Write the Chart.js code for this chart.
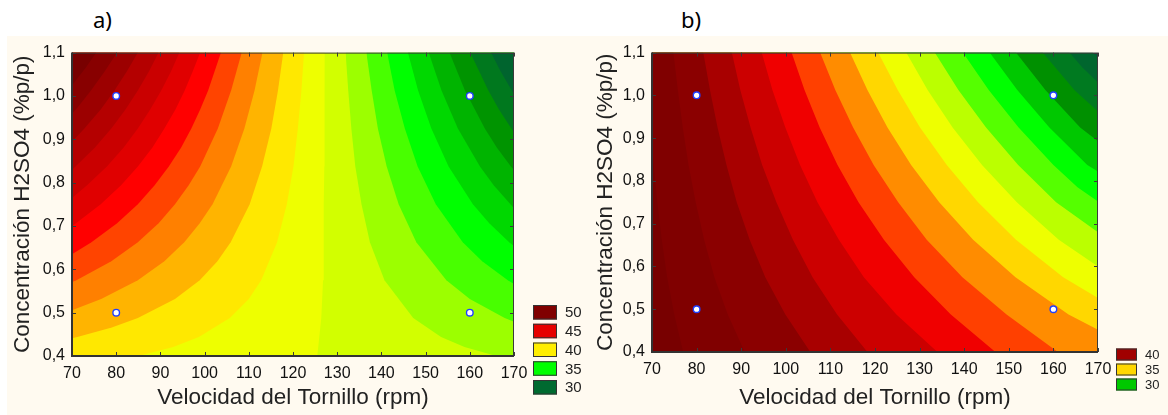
<!DOCTYPE html>
<html lang="es">
<head>
<meta charset="UTF-8">
<title>Superficies de respuesta</title>
<script src="https://cdn.jsdelivr.net/npm/chart.js"></script>
<style>
    html, body { margin: 0; padding: 0; background: #ffffff; }
    body { width: 1168px; height: 415px; position: relative; overflow: hidden; }
    canvas { position: absolute; top: 36px; background: #fffaf0; }
    #chartA { left: 7px; }
    #chartB { left: 590px; }
    .tag { position: absolute; top: 6px; font-family: "Noto Sans", "Open Sans", sans-serif; font-size: 22px; line-height: 26px; color: #000; }
</style>
</head>
<body>
<div class="tag" style="left:93px">a)</div>
<div class="tag" style="left:681px">b)</div>
<canvas id="chartA" width="583" height="379"></canvas>
<canvas id="chartB" width="578" height="379"></canvas>
<script>
// ejes
const xTicks = [70, 80, 90, 100, 110, 120, 130, 140, 150, 160, 170];
const yTicks = [0.4, 0.5, 0.6, 0.7, 0.8, 0.9, 1.0, 1.1];
const xTitle = 'Velocidad del Tornillo (rpm)';
const yTitle = 'Concentración H2SO4 (%p/p)';

// puntos experimentales
const expX = [80, 80, 160, 160];
const expY = [0.5, 1.0, 0.5, 1.0];

// ---- a) colores de banda (50 ... 30)
const bandsA = [50, 49, 48, 47, 46, 45, 44, 43, 42, 41, 40, 39, 38, 37, 36, 35, 34, 33, 32, 31, 30];
const colorsA = ['#780000', '#880000', '#9c0000', '#b40000', '#ca0000', '#e00000', '#ff0000',
    '#ff4400', '#ff8000', '#ffb400', '#ffe800', '#eeff00', '#d2ff00', '#9cff00', '#48ff00',
    '#00ff00', '#00d800', '#00b400', '#009400', '#00781e', '#00642e'];
const legendA = [50, 45, 40, 35, 30];
const legendColorsA = ['#800000', '#e60000', '#ffee00', '#00ff00', '#006a30'];

// a) lineas de contorno (x, y)
const a49 = [[70, 1.024], [71.5, 1.044], [73.1, 1.065], [75.5, 1.1]];
const a48 = [[70, 0.959], [71.3, 0.974], [74.3, 1.0125], [77.5, 1.058], [80.2, 1.1]];
const a47 = [[70, 0.8945], [72.8, 0.925], [76.5, 0.96875], [79.6, 1.0125], [82.4, 1.05625], [84.9, 1.1]];
const a46 = [[70, 0.8298], [70.8, 0.8375], [75.2, 0.88125], [78.9, 0.925], [82.1, 0.96875], [84.9, 1.0125], [87.4, 1.05625], [89.6, 1.1]];
const a45 = [[70, 0.7648], [73.4, 0.79375], [77.9, 0.8375], [81.7, 0.88125], [84.9, 0.925], [87.7, 0.96875], [90.2, 1.0125], [92.4, 1.05625], [94.3, 1.1]];
const a44 = [[70, 0.700], [70.9, 0.70625], [76.5, 0.75], [81.1, 0.79375], [84.9, 0.8375], [88.2, 0.88125], [90.9, 0.925], [93.4, 0.96875], [95.5, 1.0125], [97.3, 1.05625], [99.0, 1.1]];
const a43 = [[70, 0.635], [74.4, 0.6625], [80.2, 0.70625], [84.9, 0.75], [88.7, 0.79375], [91.9, 0.8375], [94.7, 0.88125], [97.0, 0.925], [99.0, 0.96875], [100.8, 1.0125], [103.7, 1.1]];
const a42 = [[70, 0.5705], [71.0, 0.575], [78.9, 0.61875], [84.9, 0.6625], [89.6, 0.70625], [93.3, 0.75], [96.4, 0.79375], [99.0, 0.8375], [103.0, 0.925], [106.0, 1.0125], [108.4, 1.1]];
const a41 = [[70, 0.5056], [76.6, 0.53125], [84.9, 0.575], [90.9, 0.61875], [95.4, 0.6625], [98.9, 0.70625], [101.8, 0.75], [106.0, 0.8375], [109.0, 0.925], [111.3, 1.0125], [113.1, 1.1]];
const a40 = [[70, 0.4408], [71.2, 0.44375], [79.0, 0.465625], [84.9, 0.4875], [93.3, 0.53125], [98.9, 0.575], [102.9, 0.61875], [105.9, 0.6625], [110.2, 0.75], [113.0, 0.8375], [115.1, 0.925], [116.6, 1.0125], [117.8, 1.1]];
const a39 = [[70, 0.4], [85.0, 0.4], [92.9, 0.421], [98.7, 0.44375], [105.7, 0.4875], [110.0, 0.53125], [112.8, 0.575], [116.4, 0.6625], [118.6, 0.75], [120.1, 0.8375], [121.1, 0.925], [121.9, 1.0125], [122.5, 1.1]];
const a38 = [[70, 0.4], [125.5, 0.4], [126.4, 0.4875], [126.8, 0.575], [126.9, 0.6625], [127.0, 0.75], [127.1, 0.8375], [127.15, 0.925], [127.2, 1.0125], [127.2, 1.1]];
const a37 = [[131.9, 1.1], [132.5, 1.0125], [133.2, 0.925], [134.1, 0.8375], [135.5, 0.75], [137.4, 0.6625], [140.7, 0.575], [147.2, 0.4875], [153.5, 0.44375], [158.8, 0.421], [166.0, 0.4], [170, 0.4]];
const a36 = [[136.6, 1.1], [137.8, 1.0125], [139.2, 0.925], [141.2, 0.8375], [143.9, 0.75], [147.9, 0.6625], [154.7, 0.575], [160.0, 0.53125], [167.9, 0.4875], [170, 0.4788]];
const a35 = [[141.3, 1.1], [143.0, 1.0125], [145.3, 0.925], [148.2, 0.8375], [152.3, 0.75], [158.4, 0.6625], [162.8, 0.61875], [168.6, 0.575], [170, 0.566]];
const a34 = [[146.0, 1.1], [148.3, 1.0125], [151.3, 0.925], [155.2, 0.8375], [160.7, 0.75], [164.4, 0.70625], [168.9, 0.6625], [170, 0.654]];
const a33 = [[150.7, 1.1], [153.6, 1.0125], [157.3, 0.925], [162.3, 0.8375], [165.4, 0.79375], [169.2, 0.75], [170, 0.741]];
const a32 = [[155.4, 1.1], [158.9, 1.0125], [163.4, 0.925], [166.1, 0.88125], [169.3, 0.8375], [170, 0.829]];
const a31 = [[160.1, 1.1], [164.2, 1.0125], [166.6, 0.96875], [169.4, 0.925], [170, 0.916]];
const a30 = [[164.8, 1.1], [166.9, 1.058], [169.5, 1.0125], [170, 1.004]];

// ---- b) colores de banda (43 ... 26)
const bandsB = [43, 42, 41, 40, 39, 38, 37, 36, 35, 34, 33, 32, 31, 30, 29, 28, 27, 26];
const colorsB = ['#780000', '#800000', '#8b0000', '#a80000', '#cc0000', '#f00000', '#ff4000',
    '#ff8c00', '#ffd700', '#eeff00', '#bbff00', '#55ff00', '#00ff00', '#00c800', '#009000',
    '#007a20', '#00662e', '#005a3a'];
const legendB = [40, 35, 30];
const legendColorsB = ['#a00000', '#ffd700', '#00c800'];

// b) lineas de contorno
const b42 = [[70, 0.881], [70.4, 0.8375], [71.2, 0.75], [72.2, 0.6625], [73.4, 0.575], [75.0, 0.4875], [77.0, 0.4]];
const b41 = [[70, 1.1], [74.8, 1.1], [75.8, 1.0125], [76.9, 0.925], [78.2, 0.8375], [79.8, 0.75], [81.7, 0.6625], [84.0, 0.575], [87.0, 0.4875], [90.8, 0.4]];
const b40 = [[70, 1.1], [81.5, 1.1], [83.0, 1.0125], [84.7, 0.925], [86.7, 0.8375], [89.0, 0.75], [91.9, 0.6625], [95.4, 0.575], [99.9, 0.4875], [105.5, 0.4]];
const b39 = [[70, 1.1], [87.9, 1.1], [89.8, 1.0125], [92.1, 0.925], [94.7, 0.8375], [97.9, 0.75], [101.6, 0.6625], [106.0, 0.575], [111.5, 0.4875], [118.3, 0.4]];
const b38 = [[70, 1.1], [94.6, 1.1], [97.0, 1.0125], [99.9, 0.925], [103.2, 0.8375], [107.1, 0.75], [111.9, 0.6625], [117.5, 0.575], [124.8, 0.4875], [134.0, 0.4]];
const b37 = [[70, 1.1], [101.3, 1.1], [104.2, 1.0125], [107.6, 0.925], [111.6, 0.8375], [116.3, 0.75], [122.0, 0.6625], [128.8, 0.575], [137.0, 0.4875], [147.0, 0.4]];
const b36 = [[70, 1.1], [107.7, 1.1], [111.1, 1.0125], [115.1, 0.925], [119.7, 0.8375], [125.2, 0.75], [131.6, 0.6625], [139.6, 0.575], [149.5, 0.4875], [161.0, 0.4]];
const b35 = [[70, 1.1], [114.4, 1.1], [118.3, 1.0125], [122.8, 0.925], [128.1, 0.8375], [134.4, 0.75], [142.0, 0.6625], [151.5, 0.575], [163.4, 0.4875], [170, 0.452]];
const b34 = [[70, 1.1], [120.7, 1.1], [125.1, 1.0125], [130.1, 0.925], [136.1, 0.8375], [143.1, 0.75], [151.6, 0.6625], [162.2, 0.575], [170, 0.526]];
const b33 = [[70, 1.1], [127.0, 1.1], [131.8, 1.0125], [137.4, 0.925], [144.0, 0.8375], [151.8, 0.75], [161.2, 0.6625], [170, 0.600]];
const b32 = [[70, 1.1], [133.4, 1.1], [138.7, 1.0125], [144.9, 0.925], [152.1, 0.8375], [160.6, 0.75], [170, 0.680]];
const b31 = [[70, 1.1], [139.7, 1.1], [145.5, 1.0125], [152.2, 0.925], [160.0, 0.8375], [165.4, 0.785], [170, 0.752]];
const b30 = [[70, 1.1], [145.7, 1.1], [151.9, 1.0125], [159.1, 0.925], [167.6, 0.8375], [170, 0.822]];
const b29 = [[70, 1.1], [151.6, 1.1], [158.2, 1.0125], [166.0, 0.925], [170, 0.893]];
const b28 = [[70, 1.1], [157.6, 1.1], [164.7, 1.0125], [170, 0.962]];
const b27 = [[70, 1.1], [163.6, 1.1], [166.5, 1.065], [170, 1.03]];
const b26 = [[70, 1.1], [168.8, 1.1], [170, 1.088]];

const fullArea = [[70, 1.1], [170, 1.1]];

function comma(v) {
    return v.toFixed(1).replace('.', ',');
}

// dibuja el marco y las marcas hacia adentro
const framePlugin = {
    id: 'frame',
    afterDatasetsDraw(chart) {
        const { ctx, chartArea: a, scales: { x, y } } = chart;
        ctx.save();
        ctx.strokeStyle = '#3a3a3a';
        ctx.lineWidth = 1;
        xTicks.forEach(v => {
            const px = Math.round(x.getPixelForValue(v)) + 0.5;
            ctx.beginPath();
            ctx.moveTo(px, a.bottom); ctx.lineTo(px, a.bottom - 4);
            ctx.moveTo(px, a.top); ctx.lineTo(px, a.top + 4);
            ctx.stroke();
        });
        yTicks.forEach(v => {
            const py = Math.round(y.getPixelForValue(v)) + 0.5;
            ctx.beginPath();
            ctx.moveTo(a.left, py); ctx.lineTo(a.left + 4, py);
            ctx.moveTo(a.right, py); ctx.lineTo(a.right - 4, py);
            ctx.stroke();
        });
        ctx.strokeRect(a.left + 0.5, a.top + 0.5, a.right - a.left - 1, a.bottom - a.top - 1);
        ctx.lineWidth = 2;
        ctx.strokeStyle = '#333';
        ctx.beginPath();
        ctx.moveTo(a.left, a.top); ctx.lineTo(a.left, a.bottom); ctx.lineTo(a.right, a.bottom);
        ctx.stroke();
        ctx.restore();
    }
};

// leyenda de niveles
const keyPlugin = {
    id: 'levelKey',
    afterDraw(chart, args, o) {
        const { ctx, chartArea: a } = chart;
        ctx.save();
        ctx.font = o.size + 'px "Liberation Sans", Arial, sans-serif';
        ctx.textBaseline = 'middle';
        o.labels.forEach((lab, i) => {
            const bx = a.right + o.dx;
            const by = a.bottom + o.dy + i * o.step;
            ctx.fillStyle = o.colors[i];
            ctx.fillRect(bx, by, o.w, o.h);
            ctx.strokeStyle = '#333';
            ctx.lineWidth = 1;
            ctx.strokeRect(bx + 0.5, by + 0.5, o.w - 1, o.h - 1);
            ctx.fillStyle = '#222';
            ctx.fillText(String(lab), bx + o.w + 8, by + o.h / 2 + 1);
        });
        ctx.restore();
    }
};

function region(pts, color, fill) {
    return {
        data: pts.map(p => ({ x: p[0], y: p[1] })),
        backgroundColor: color,
        borderColor: 'rgba(0,0,0,0)',
        borderWidth: 0,
        pointRadius: 0,
        tension: 0,
        fill: fill
    };
}

function makeChart(id, layers, key, box) {
    // Chart.js pinta el dataset 0 al final: se invierte el orden de capas
    const datasets = [{
        data: expX.map((x, i) => ({ x: x, y: expY[i] })),
        showLine: false,
        pointRadius: 3.3,
        pointBackgroundColor: '#ffffff',
        pointBorderColor: '#2040ff',
        pointBorderWidth: 1.4
    }].concat(layers.slice().reverse());

    const tickFont = { family: '"Liberation Sans", Arial, sans-serif', size: 16 };
    const titleFont = { family: '"Liberation Sans", Arial, sans-serif', size: 22.5 };

    return new Chart(document.getElementById(id), {
        type: 'line',
        data: { datasets: datasets },
        options: {
            responsive: false,
            animation: false,
            events: [],
            layout: { padding: { left: 0, top: 9, right: box.right, bottom: 0 } },
            scales: {
                x: {
                    type: 'linear', min: 70, max: 170,
                    afterBuildTicks: s => { s.ticks = xTicks.map(v => ({ value: v })); },
                    afterFit: s => { s.height = box.xh; },
                    grid: { display: false, drawTicks: false },
                    border: { display: false },
                    ticks: { font: tickFont, color: '#111', padding: 8, maxRotation: 0 },
                    title: { display: true, text: xTitle, font: titleFont, color: '#222', padding: { top: 0, bottom: 4 } }
                },
                y: {
                    type: 'linear', min: 0.4, max: 1.1,
                    afterBuildTicks: s => { s.ticks = yTicks.map(v => ({ value: v })); },
                    afterFit: s => { s.width = box.yw; },
                    grid: { display: false, drawTicks: false },
                    border: { display: false },
                    ticks: { font: tickFont, color: '#111', padding: 7, callback: v => comma(v) },
                    title: { display: true, text: yTitle, font: titleFont, color: '#222', padding: { top: 2, bottom: 0 } }
                }
            },
            plugins: {
                legend: { display: false },
                tooltip: { enabled: false },
                levelKey: key
            }
        },
        plugins: [framePlugin, keyPlugin]
    });
}

// a) capas en orden de pintado
const cA = i => colorsA[bandsA.indexOf(i)];
const layersA = [
    region(fullArea, cA(38), 'start'),
    region(a38, cA(39), 'end'),
    region(a39, cA(40), 'end'),
    region(a40, cA(41), 'end'),
    region(a41, cA(42), 'end'),
    region(a42, cA(43), 'end'),
    region(a43, cA(44), 'end'),
    region(a44, cA(45), 'end'),
    region(a45, cA(46), 'end'),
    region(a46, cA(47), 'end'),
    region(a47, cA(48), 'end'),
    region(a48, cA(49), 'end'),
    region(a49, cA(50), 'end'),
    region(a37, cA(37), 'end'),
    region(a36, cA(36), 'end'),
    region(a35, cA(35), 'end'),
    region(a34, cA(34), 'end'),
    region(a33, cA(33), 'end'),
    region(a32, cA(32), 'end'),
    region(a31, cA(31), 'end'),
    region(a30, cA(30), 'end')
];

// b) capas en orden de pintado
const cB = i => colorsB[bandsB.indexOf(i)];
const layersB = [
    region(fullArea, cB(26), 'start'),
    region(b26, cB(27), 'start'),
    region(b27, cB(28), 'start'),
    region(b28, cB(29), 'start'),
    region(b29, cB(30), 'start'),
    region(b30, cB(31), 'start'),
    region(b31, cB(32), 'start'),
    region(b32, cB(33), 'start'),
    region(b33, cB(34), 'start'),
    region(b34, cB(35), 'start'),
    region(b35, cB(36), 'start'),
    region(b36, cB(37), 'start'),
    region(b37, cB(38), 'start'),
    region(b38, cB(39), 'start'),
    region(b39, cB(40), 'start'),
    region(b40, cB(41), 'start'),
    region(b41, cB(42), 'start'),
    region(b42, cB(43), 'start')
];

makeChart('chartA', layersA,
    { labels: legendA, colors: legendColorsA, dx: 19, dy: -51, step: 18.75, w: 24, h: 14.5, size: 15 },
    { right: 76, xh: 59, yw: 65 });

makeChart('chartB', layersB,
    { labels: legendB, colors: legendColorsB, dx: 18, dy: -3.5, step: 15, w: 21, h: 12, size: 13 },
    { right: 70, xh: 63, yw: 62 });
</script>
</body>
</html>
